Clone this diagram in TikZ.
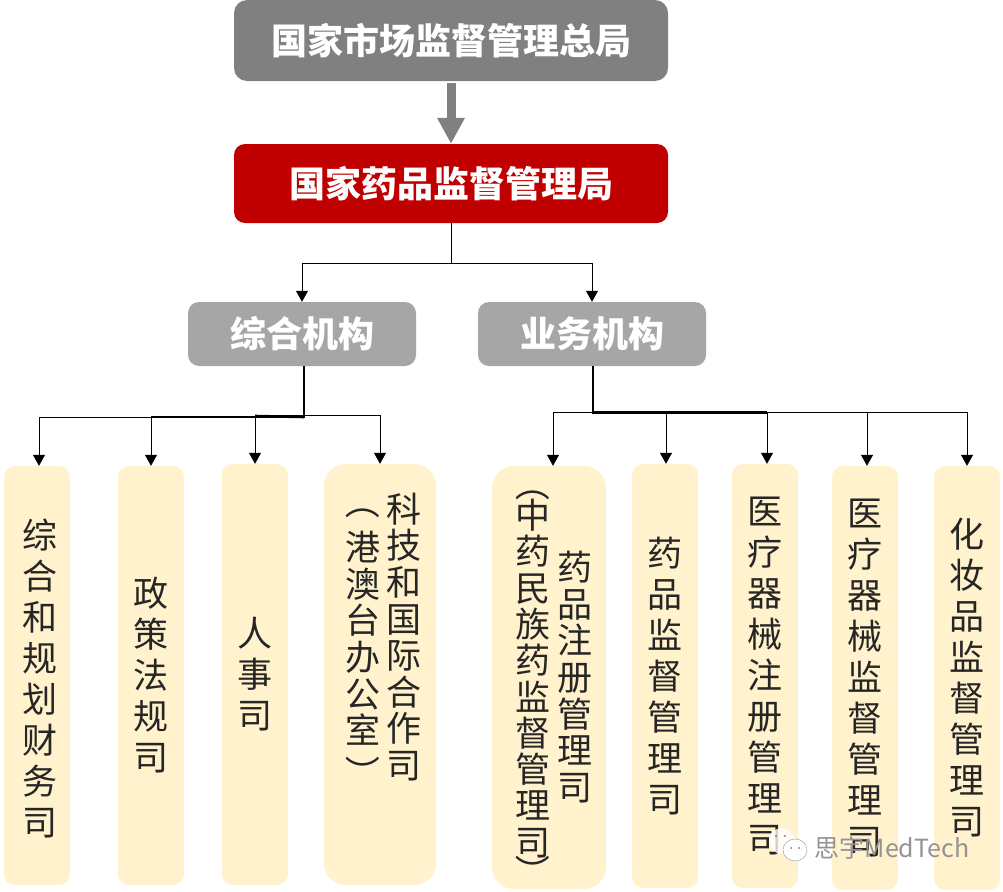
\documentclass[tikz,border=0pt]{standalone}
\usepackage{fontspec}
\setmainfont{Noto Sans CJK SC}
\usetikzlibrary{arrows.meta}
\definecolor{topgray}{HTML}{808080}
\definecolor{midgray}{HTML}{A6A6A6}
\definecolor{ftred}{HTML}{C00000}
\definecolor{deptfill}{HTML}{FFF2CC}
\definecolor{depttext}{HTML}{262626}
\tikzset{
  headbox/.style={rounded corners=13pt,inner sep=0pt,text=white,minimum width=434pt,font=\bfseries\fontsize{36}{40}\selectfont},
  groupbox/.style={rounded corners=11pt,fill=midgray,inner sep=0pt,text=white,minimum width=228pt,minimum height=64pt,font=\bfseries\fontsize{36}{40}\selectfont},
  deptbox/.style={rounded corners=11pt,fill=deptfill,inner sep=0pt,align=center,text=depttext,minimum width=66pt,font=\fontsize{35}{41}\selectfont},
  deptcol/.style={inner sep=0pt,align=center,text=depttext,font=\fontsize{35}{36.6}\selectfont},
  deptparen/.style={inner sep=0pt,rotate=-90,text=depttext,font=\fontsize{35}{36.6}\selectfont},
  thinline/.style={line width=1pt},
  thickline/.style={line width=2.6pt},
  arrowline/.style={thinline,-{Triangle[length=11pt,width=12pt]}}
}
\begin{document}
\begin{tikzpicture}[x=1pt,y=-1pt]
\useasboundingbox (0,0) rectangle (1003,891);
% head offices
\node [headbox,fill=topgray,minimum height=81pt] (samr) at (451,40.5) {国家市场监督管理总局};
\node [headbox,fill=ftred,minimum height=79pt,rounded corners=11pt] (nmpa) at (451,183.5) {国家药品监督管理局};
\draw [topgray,line width=9pt,shorten <=2pt,-{Triangle[length=26pt,width=26pt]}] (samr.south) -- (nmpa.north);
% groups
\node [groupbox] (general) at (302,334) {综合机构};
\node [groupbox] (business) at (592,334) {业务机构};
% left departments
\node [deptbox,minimum height=419pt] (plan) at (37,675.5) {};
\node [deptcol,font=\fontsize{35}{41}\selectfont] (plana) at (40,678) {综\\合\\和\\规\\划\\财\\务\\司};
\node [deptbox,minimum height=419pt] (policy) at (151,675.5) {政\\策\\法\\规\\司};
\node [deptbox,minimum height=421pt] (hr) at (255,674.5) {人\\事\\司};
\node [deptbox,minimum width=112pt,minimum height=421pt,rounded corners=22pt] (intl) at (380,674.5) {};
\node [deptcol] (intla) at (404,637) {科\\技\\和\\国\\际\\合\\作\\司};
\node [deptcol] (intlb) at (363,638.5) {港\\澳\\台\\办\\公\\室};
\node [deptparen] (intlc) at (363,502) {（};
\node [deptparen] (intld) at (363,773) {）};
% right departments
\node [deptbox,minimum width=114pt,minimum height=423pt,rounded corners=22pt] (reg) at (549,677.5) {};
\node [deptcol] (rega) at (575,677) {药\\品\\注\\册\\管\\理\\司};
\node [deptcol,font=\fontsize{35}{36.3}\selectfont] (regb) at (533,678.5) {中\\药\\民\\族\\药\\监\\督\\管\\理\\司};
\node [deptparen] (regc) at (533,484) {（};
\node [deptparen] (regd) at (533,872) {）};
\node [deptbox,minimum height=424pt] (drug) at (665,676) {药\\品\\监\\督\\管\\理\\司};
\node [deptbox,minimum height=424pt] (devreg) at (765,676) {医\\疗\\器\\械\\注\\册\\管\\理\\司};
\node [deptbox,minimum height=424pt] (devsup) at (865,678) {医\\疗\\器\\械\\监\\督\\管\\理\\司};
\node [deptbox,minimum height=424pt] (cosm) at (967,678) {化\\妆\\品\\监\\督\\管\\理\\司};
% connectors
\coordinate (split) at (451,263);
\coordinate (busl) at (304,417);
\coordinate (busla) at (255,415);
\coordinate (busr) at (593,412.5);
\coordinate (busre) at (767,412.5);
\draw [thinline] (nmpa.south) -- (split);
\draw [arrowline] (split) -| (general.north);
\draw [arrowline] (split) -| (business.north);
\draw [thickline] ([xshift=2pt]general.south) -- (busl) -- (151,417);
\draw [thickline] (255,416) -- (busl);
\draw [arrowline] (busl) -| ([xshift=2pt]plan.north);
\draw [arrowline] (151,417) -- (policy.north);
\draw [arrowline] (busla) -- (hr.north);
\draw [arrowline] (busla) -| (intl.north);
\draw [thickline] ([xshift=1pt]business.south) -- (busr) -- (busre);
\draw [arrowline] (busr) -| ([xshift=4pt]reg.north);
\draw [arrowline] (666,412.5) -- ([xshift=1pt]drug.north);
\draw [arrowline] (busre) -- ([xshift=2pt]devreg.north);
\draw [arrowline] (busre) -| ([xshift=2pt]devsup.north);
\draw [arrowline] (busre) -| (cosm.north);
% watermark
\fill [white,opacity=.8] (782,841) ellipse (13pt and 13pt);
\fill [white] (795,850) ellipse (12pt and 11pt);
\draw [gray!70,line width=.5pt] (795,850) ellipse (12pt and 11pt);
\fill [gray] (776,836) circle (1.2pt) (785,836) circle (1.2pt) (791,848) circle (1pt) (799,848) circle (1pt);
\node [text=gray!85,inner sep=0pt,font=\fontsize{25}{27}\selectfont] (mark) at (892,848) {思宇MedTech};
\end{tikzpicture}
\end{document}
